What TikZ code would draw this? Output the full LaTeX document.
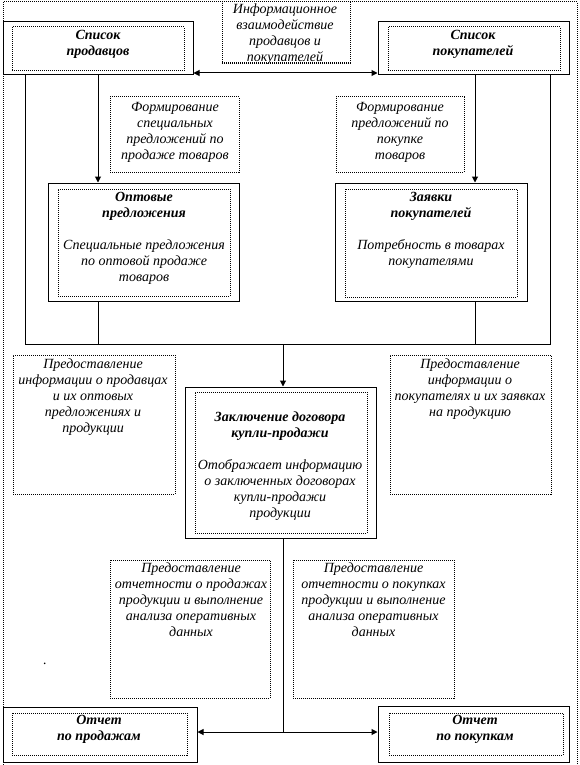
\documentclass[tikz,border=0pt]{standalone}
\usepackage{fontspec}
\setmainfont{Liberation Serif}
\usetikzlibrary{arrows.meta,fit}
\begin{document}
\begin{tikzpicture}[x=1pt,y=-1pt,
  solidbox/.style={draw, line width=1pt, inner sep=0pt},
  dotbox/.style={draw, line width=1pt, dash pattern=on 1pt off 1pt, inner sep=0pt},
  txt/.style={align=center, inner sep=0pt, font=\fontsize{14}{16}\selectfont\itshape},
  conn/.style={line width=1pt},
  arr/.style={conn, -{Triangle[length=6pt,width=6pt]}},
  darr/.style={conn, {Triangle[length=6pt,width=6pt]}-{Triangle[length=6pt,width=6pt]}}
]
\useasboundingbox (0,0) rectangle (580,765);
% outer frame
\node[dotbox, fit={(3,2) (577,768)}] (outer) {};
% info box
\node[dotbox, fill=white, fit={(222,2) (350,63)}] (info) {};
\begin{scope}
\clip (222,0) rectangle (351,64);
\node[txt] (infot) at (285,34) {Информационное\\взаимодействие\\продавцов и\\покупателей};
\end{scope}
\draw[line width=1pt, dash pattern=on 1pt off 1pt] (info.south west) -- (info.south east);
% seller list
\node[solidbox, fit={(3,22) (193,75)}] (sp) {};
\node[dotbox, fit={(12,27) (184,71)}] (spi) {};
\node[txt, font=\fontsize{14}{16}\selectfont\bfseries\itshape] (spt) at (98,44) {Список\\продавцов};
% buyer list
\node[solidbox, fit={(378,22) (569,75)}] (pk) {};
\node[dotbox, fit={(388,27) (560,71)}] (pki) {};
\node[txt, font=\fontsize{14}{16}\selectfont\bfseries\itshape] (pkt) at (473,44) {Список\\покупателей};
% formation boxes
\node[dotbox, fit={(110,97) (239,172)}] (f1) {};
\node[txt] (f1t) at (175,132) {Формирование\\специальных\\предложений по\\продаже товаров};
\node[dotbox, fit={(336,97) (464,172)}] (f2) {};
\node[txt] (f2t) at (400,132) {Формирование\\предложений по\\покупке\\товаров};
% wholesale offers
\node[solidbox, fit={(48,183) (239,301)}] (opt) {};
\node[dotbox, fit={(58,189) (230,296)}] (opti) {};
\node[txt] (optt) at (144,238.5) {\textbf{Оптовые}\\\textbf{предложения}\\[16pt]Специальные предложения\\по оптовой продаже\\товаров};
% buyer requests
\node[solidbox, fit={(335,183) (527,301)}] (zay) {};
\node[dotbox, fit={(345,189) (517,297)}] (zayi) {};
\node[txt] (zayt) at (431,230) {\textbf{Заявки}\\\textbf{покупателей}\\[16pt]Потребность в товарах\\покупателями};
% provision boxes
\node[dotbox, fit={(13,355) (175,494)}] (p1) {};
\node[txt] (p1t) at (93,397) {Предоставление\\информации о продавцах\\и их оптовых\\предложениях и\\продукции};
\node[dotbox, fit={(390,355) (551,494)}] (p2) {};
\node[txt] (p2t) at (470,389) {Предоставление\\информации о\\покупателях и их заявках\\на продукцию};
% contract
\node[solidbox, fit={(185,387) (376,538)}] (zak) {};
\node[dotbox, fit={(195,392) (367,533)}] (zaki) {};
\node[txt] (zakt) at (280,466) {\textbf{Заключение договора}\\\textbf{купли-продажи}\\[16pt]Отображает информацию\\о заключенных договорах\\купли-продажи\\продукции};
% reporting boxes
\node[dotbox, fit={(110,560) (270,698)}] (r1) {};
\node[txt] (r1t) at (191,600) {Предоставление\\отчетности о продажах\\продукции и выполнение\\анализа оперативных\\данных};
\node[dotbox, fit={(293,560) (454,698)}] (r2) {};
\node[txt] (r2t) at (373.5,600) {Предоставление\\отчетности о покупках\\продукции и выполнение\\анализа оперативных\\данных};
\node[txt] (dot) at (45,664) {.};
% reports
\node[solidbox, fit={(3,707) (197,762)}] (op) {};
\node[dotbox, fit={(12,713) (187,755)}] (opi) {};
\node[txt, font=\fontsize{14}{16}\selectfont\bfseries\itshape] (opt2) at (99,729) {Отчет\\по продажам};
\node[solidbox, fit={(378,706) (569,762)}] (ok) {};
\node[dotbox, fit={(389,713) (563,755)}] (oki) {};
\node[txt, font=\fontsize{14}{16}\selectfont\bfseries\itshape] (okt) at (475,729) {Отчет\\по покупкам};
% connectors
\coordinate (busL) at (25,344);
\coordinate (busR) at (550,344);
\coordinate (busM) at (283,344);
\coordinate (low) at (283,732);
\draw[darr] (sp.east |- 0,73) -- (pk.west |- 0,73);
\draw[conn] (sp.south -| busL) -- (busL) -- (busR) -- (pk.south -| busR);
\draw[arr] (sp.south -| 98,0) -- (opt.north -| 98,0);
\draw[arr] (pk.south -| 475,0) -- (zay.north -| 475,0);
\draw[conn] (opt.south -| 98,0) -- (98,344);
\draw[conn] (zay.south -| 475,0) -- (475,344);
\draw[arr] (busM) -- (zak.north -| busM);
\draw[conn] (zak.south -| low) -- (low);
\draw[darr] (op.east |- low) -- (ok.west |- low);
\end{tikzpicture}
\end{document}
